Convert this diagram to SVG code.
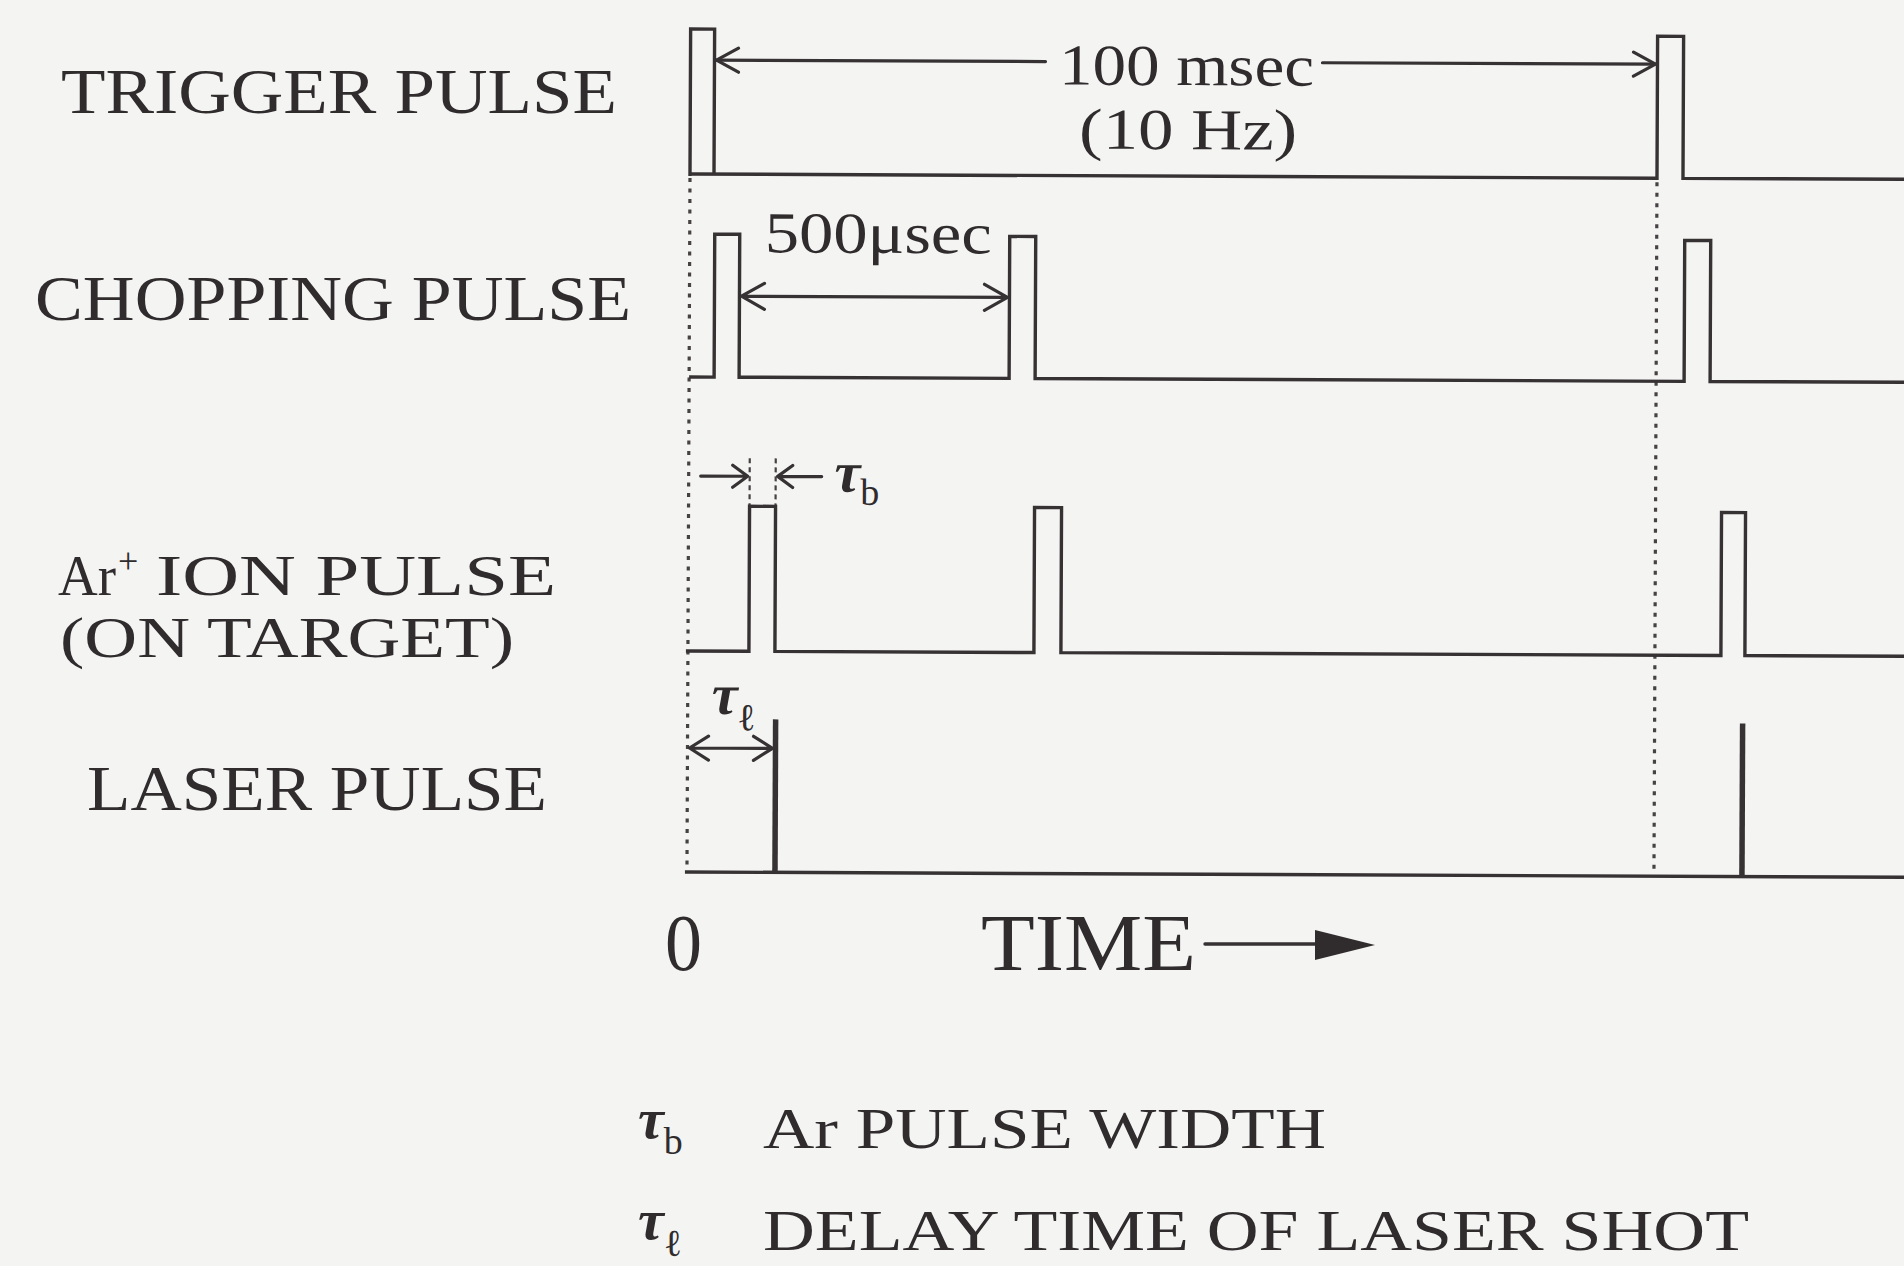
<svg xmlns="http://www.w3.org/2000/svg" width="1904" height="1266" viewBox="0 0 1904 1266">
<defs>
<style>
.bg{fill:#f4f4f3}
.lbl{font-family:"Liberation Serif",serif;fill:#302c2e;font-size:63px}
.num{font-family:"Liberation Serif",serif;fill:#302c2e;font-size:58px}
.leg{font-family:"Liberation Serif",serif;fill:#302c2e;font-size:58px}
.tau{font-family:"Liberation Serif",serif;font-style:italic;font-weight:bold;fill:#302c2e;font-size:58px}
.sub{font-style:normal;font-weight:normal;font-size:38px}
.wave{fill:none;stroke:#363133;stroke-width:3.4;stroke-linejoin:miter}
.las{fill:none;stroke:#363133;stroke-width:5.5}
.dot{fill:none;stroke:#464143;stroke-width:3.2;stroke-dasharray:4 6.5}
.ext{fill:none;stroke:#464143;stroke-width:2.2;stroke-dasharray:5 4}
.dim{fill:none;stroke:#363133;stroke-width:3.2;stroke-linecap:round;stroke-linejoin:round}
.arr{fill:#302c2e}
</style>
</defs>
<rect class="bg" x="0" y="0" width="1904" height="1266"/>

<g id="labels">
<text id="lbl-trigger" class="lbl" x="61" y="113" textLength="556" lengthAdjust="spacingAndGlyphs">TRIGGER PULSE</text>
<text id="lbl-chopping" class="lbl" x="35" y="320" textLength="596" lengthAdjust="spacingAndGlyphs">CHOPPING PULSE</text>
<text id="lbl-ar-a" class="lbl" x="58" y="595" style="font-size:57px" textLength="58" lengthAdjust="spacingAndGlyphs">Ar</text>
<text id="lbl-ar-plus" class="lbl" x="118" y="573" style="font-size:36px">+</text>
<text id="lbl-ar-b" class="lbl" x="156" y="595" style="font-size:57px" textLength="400" lengthAdjust="spacingAndGlyphs">ION PULSE</text>
<text id="lbl-ar-c" class="lbl" x="60" y="657" style="font-size:57px" textLength="454" lengthAdjust="spacingAndGlyphs">(ON TARGET)</text>
<text id="lbl-laser" class="lbl" x="87" y="810" textLength="460" lengthAdjust="spacingAndGlyphs">LASER PULSE</text>
</g>

<g id="waveforms" transform="rotate(0.25 690 174)">
<g id="guides">
<line class="dot" x1="690" y1="178" x2="690" y2="872"/>
<line class="dot" x1="1657" y1="178" x2="1657" y2="872"/>
<line class="ext" x1="751" y1="458" x2="751" y2="506"/>
<line class="ext" x1="777" y1="458" x2="777" y2="506"/>
</g>
<g id="trigger">
<path class="wave" d="M690,176 V29 H714 V174"/>
<path class="wave" d="M690,174 H1657 V32 H1683 V174 H1915"/>
</g>
<g id="chopping">
<path class="wave" d="M690,377 H715 V234 H740 V377 H1010 V235 H1036 V377 H1685 V236 H1711 V377 H1915"/>
</g>
<g id="arion">
<path class="wave" d="M688,651 H751 V506 H777 V651 H1036 V506 H1063 V651 H1723 V508 H1747 V651 H1915"/>
</g>
<g id="laser">
<path class="wave" d="M688,872 H1915"/>
<line class="las" x1="778" y1="719" x2="778" y2="873"/>
<line class="las" x1="1745" y1="719" x2="1745" y2="873"/>
</g>
<g id="connectors">
<path class="dim" d="M716,60 H1045 M1322,60 H1655"/>
<path class="dim" d="M738,48 L716,60 L738,72 M1633,48 L1655,60 L1633,72"/>
<path class="dim" d="M742,296 H1008 M765,283 L742,296 L765,309 M985,283 L1008,296 L985,309"/>
<path class="dim" d="M702,476 H749 M734,465 L749,476 L734,487 M823,476 H779 M794,465 L779,476 L794,487"/>
<path class="dim" d="M692,748 H775 M711,736 L692,748 L711,760 M756,736 L775,748 L756,760"/>
</g>
<g id="dimtext">
<text class="num" x="1186" y="83" text-anchor="middle" textLength="255" lengthAdjust="spacingAndGlyphs">100 msec</text>
<text class="num" x="1188" y="147" text-anchor="middle" textLength="218" lengthAdjust="spacingAndGlyphs">(10 Hz)</text>
<text class="num" x="765" y="252" textLength="227" lengthAdjust="spacingAndGlyphs">500μsec</text>
<text class="tau" x="836" y="491">τ<tspan class="sub" dy="13">b</tspan></text>
<text class="tau" x="714" y="714">τ<tspan class="sub" dy="16">ℓ</tspan></text>
</g>
</g>

<g id="axis">
<text class="lbl" x="665" y="970" style="font-size:80px" textLength="37" lengthAdjust="spacingAndGlyphs">0</text>
<text class="lbl" x="981" y="970" style="font-size:80px" textLength="215" lengthAdjust="spacingAndGlyphs">TIME</text>
<line class="dim" x1="1205" y1="944" x2="1320" y2="944" style="stroke-width:3.4"/>
<polygon class="arr" points="1315,930 1375,945 1315,960"/>
</g>

<g id="legend">
<text class="tau" x="638" y="1138">τ<tspan class="sub" dy="16">b</tspan></text>
<text class="leg" x="763" y="1148" textLength="563" lengthAdjust="spacingAndGlyphs">Ar PULSE WIDTH</text>
<text class="tau" x="638" y="1239">τ<tspan class="sub" dy="17">ℓ</tspan></text>
<text class="leg" x="763" y="1250" textLength="986" lengthAdjust="spacingAndGlyphs">DELAY TIME OF LASER SHOT</text>
</g>
</svg>
